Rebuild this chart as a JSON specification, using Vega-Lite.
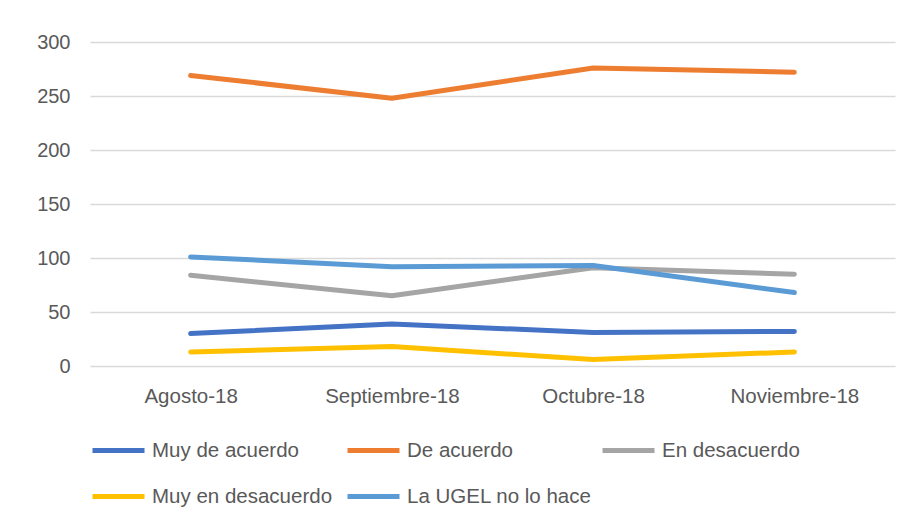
{
  "$schema": "https://vega.github.io/schema/vega-lite/v6.json",
  "width": 805,
  "height": 324,
  "autosize": {"type": "none"},
  "padding": {"left": 90, "top": 42, "right": 21, "bottom": 163},
  "background": "white",
  "data": {
    "values": [
      {"mes": "Agosto-18", "serie": "Muy de acuerdo", "valor": 30},
      {"mes": "Septiembre-18", "serie": "Muy de acuerdo", "valor": 39},
      {"mes": "Octubre-18", "serie": "Muy de acuerdo", "valor": 31},
      {"mes": "Noviembre-18", "serie": "Muy de acuerdo", "valor": 32},
      {"mes": "Agosto-18", "serie": "De acuerdo", "valor": 269},
      {"mes": "Septiembre-18", "serie": "De acuerdo", "valor": 248},
      {"mes": "Octubre-18", "serie": "De acuerdo", "valor": 276},
      {"mes": "Noviembre-18", "serie": "De acuerdo", "valor": 272},
      {"mes": "Agosto-18", "serie": "En desacuerdo", "valor": 84},
      {"mes": "Septiembre-18", "serie": "En desacuerdo", "valor": 65},
      {"mes": "Octubre-18", "serie": "En desacuerdo", "valor": 91},
      {"mes": "Noviembre-18", "serie": "En desacuerdo", "valor": 85},
      {"mes": "Agosto-18", "serie": "Muy en desacuerdo", "valor": 13},
      {"mes": "Septiembre-18", "serie": "Muy en desacuerdo", "valor": 18},
      {"mes": "Octubre-18", "serie": "Muy en desacuerdo", "valor": 6},
      {"mes": "Noviembre-18", "serie": "Muy en desacuerdo", "valor": 13},
      {"mes": "Agosto-18", "serie": "La UGEL no lo hace", "valor": 101},
      {"mes": "Septiembre-18", "serie": "La UGEL no lo hace", "valor": 92},
      {"mes": "Octubre-18", "serie": "La UGEL no lo hace", "valor": 93},
      {"mes": "Noviembre-18", "serie": "La UGEL no lo hace", "valor": 68}
    ]
  },
  "mark": {"type": "line", "strokeWidth": 5, "strokeCap": "round", "strokeJoin": "round"},
  "encoding": {
    "x": {
      "field": "mes",
      "type": "nominal",
      "sort": ["Agosto-18", "Septiembre-18", "Octubre-18", "Noviembre-18"],
      "scale": {"type": "point", "padding": 0.5},
      "axis": {"title": null, "labelAngle": 0, "ticks": false, "domain": false, "grid": false, "labelPadding": 20, "labelFontSize": 20.5}
    },
    "y": {
      "field": "valor",
      "type": "quantitative",
      "scale": {"domain": [0, 300], "nice": false},
      "axis": {"title": null, "values": [0, 50, 100, 150, 200, 250, 300], "ticks": false, "domain": false, "labelPadding": 20, "gridColor": "#d9d9d9", "gridWidth": 1.5}
    },
    "color": {
      "field": "serie",
      "type": "nominal",
      "scale": {
        "domain": ["Muy de acuerdo", "De acuerdo", "En desacuerdo", "Muy en desacuerdo", "La UGEL no lo hace"],
        "range": ["#4472C4", "#ED7D31", "#A5A5A5", "#FFC000", "#5B9BD5"]
      },
      "legend": {
        "title": null,
        "orient": "bottom",
        "direction": "horizontal",
        "columns": 3,
        "gridAlign": "all",
        "symbolType": "stroke",
        "symbolSize": 2704,
        "symbolStrokeWidth": 5,
        "labelOffset": 5,
        "columnPadding": 0,
        "rowPadding": 7,
        "offset": 15,
        "padding": 0,
        "labelLimit": 400,
        "labelFontSize": 20.5
      }
    },
    "order": {"field": "serie"}
  },
  "config": {
    "font": "Liberation Sans",
    "view": {"stroke": null},
    "axis": {"labelFont": "Liberation Sans", "labelFontSize": 20, "labelColor": "#595959"},
    "legend": {"labelFont": "Liberation Sans", "labelFontSize": 20, "labelColor": "#595959"}
  }
}
